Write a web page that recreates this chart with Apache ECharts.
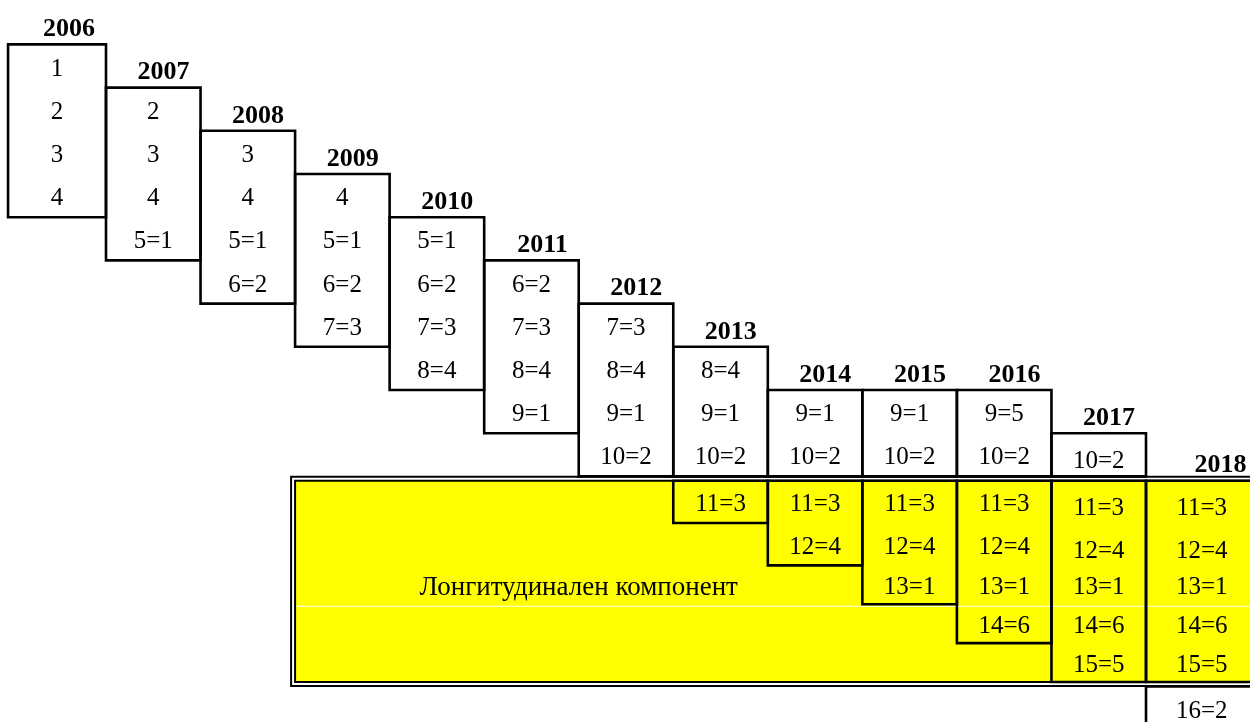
<!DOCTYPE html>
<html>
<head>
<meta charset="utf-8">
<script src="https://cdn.jsdelivr.net/npm/echarts@6/dist/echarts.min.js"></script>
<style>
html,body{margin:0;padding:0;background:#fff;}
#chart{width:1250px;height:722px;}
</style>
</head>
<body>
<div id="chart"></div>
<script>
// ---------- data ----------
const years = [2006, 2007, 2008, 2009, 2010, 2011, 2012, 2013, 2014, 2015, 2016, 2017, 2018];
const cells2006 = ['1', '2', '3', '4'];
const cells2007 = ['2', '3', '4', '5=1'];
const cells2008 = ['3', '4', '5=1', '6=2'];
const cells2009 = ['4', '5=1', '6=2', '7=3'];
const cells2010 = ['5=1', '6=2', '7=3', '8=4'];
const cells2011 = ['6=2', '7=3', '8=4', '9=1'];
const cells2012 = ['7=3', '8=4', '9=1', '10=2'];
const cells2013 = ['8=4', '9=1', '10=2', '11=3'];
const cells2014 = ['9=1', '10=2', '11=3', '12=4'];
const cells2015 = ['9=1', '10=2', '11=3', '12=4', '13=1'];
const cells2016 = ['9=5', '10=2', '11=3', '12=4', '13=1', '14=6'];
const cells2017 = ['10=2', '11=3', '12=4', '13=1', '14=6', '15=5'];
const cells2018 = ['11=3', '12=4', '13=1', '14=6', '15=5', '16=2'];
const columnCells = [cells2006, cells2007, cells2008, cells2009, cells2010, cells2011, cells2012,
                     cells2013, cells2014, cells2015, cells2016, cells2017, cells2018];
const longitudinalLabel = 'Лонгитудинален компонент';
const longitudinalFirstYear = 2009;   // yellow block starts at this year's column
const longitudinalLabelYears = [2009, 2014]; // label centred over these columns
const longitudinalRows = [11, 15];    // rows covered by the yellow block

// ---------- layout helpers (row / column geometry in axis units) ----------
const LOWER_H = {11: 0.98, 12: 0.98, 13: 0.9, 14: 0.9, 15: 0.9};
const GAP = 0.1;
function rowH(k) { return LOWER_H[k] || 1; }
function rowTop(k) {
  if (k <= longitudinalRows[0] - 1) return k - 0.5;
  let y = longitudinalRows[0] - 0.5 + GAP;
  for (let r = longitudinalRows[0]; r < k; r++) {
    y += rowH(r);
    if (r === longitudinalRows[1]) y += GAP;
  }
  return y;
}
function rowBottom(k) { return rowTop(k) + rowH(k); }
function rowMid(k) { return rowTop(k) + rowH(k) / 2; }
const lastCol = years.length - 1;
function colLeft(i) { return i === 0 ? -0.036 : i; }
function colRight(i) { return i === lastCol ? lastCol + 1.18 : i + 1; }
function colMid(i) { return (colLeft(i) + colRight(i)) / 2; }
function rowOf(s) { return parseInt(s, 10); }

// boxes derived from cell rows
const boxes = [];
const textItems = [];
const yearItems = [];
columnCells.forEach((cells, i) => {
  const rows = cells.map(rowOf);
  const up = rows.filter(r => r < longitudinalRows[0]);
  const low = rows.filter(r => r >= longitudinalRows[0] && r <= longitudinalRows[1]);
  const below = rows.filter(r => r > longitudinalRows[1]);
  if (up.length) boxes.push([colLeft(i), rowTop(Math.min(...up)), colRight(i), rowBottom(Math.max(...up))]);
  if (low.length) boxes.push([colLeft(i), rowTop(longitudinalRows[0]), colRight(i), rowBottom(Math.max(...low))]);
  if (below.length) boxes.push([colLeft(i), rowTop(Math.min(...below)), colRight(i), rowBottom(Math.max(...below)) + 1]);
  cells.forEach(s => {
    const r = rowOf(s);
    textItems.push({x: colMid(i), y: rowMid(r), text: s, nudge: (i >= lastCol - 1 && r <= 12) ? 4 : 0});
  });
  yearItems.push({x: colRight(i), y: rowTop(Math.min(...rows)), text: String(years[i])});
});

const yellowCol = years.indexOf(longitudinalFirstYear);
const yellowRect = [yellowCol, rowTop(longitudinalRows[0]), lastCol + 1.5, rowBottom(longitudinalRows[1])];
const labelX = (years.indexOf(longitudinalLabelYears[0]) + years.indexOf(longitudinalLabelYears[1]) + 1) / 2;
const labelY = rowMid(13);
const whiteLineY = rowBottom(13);

const FONT = '"Liberation Serif", "Times New Roman", serif';
const TEXT_DY = 3;

const chart = echarts.init(document.getElementById('chart'), null, {renderer: 'canvas'});
chart.setOption({
  animation: false,
  backgroundColor: '#ffffff',
  grid: {left: 11.45, right: 0, top: 1.2, bottom: 0},
  xAxis: {type: 'value', min: 0, max: 13.1, show: false},
  yAxis: {type: 'value', min: -0.5, max: 16.185, inverse: true, show: false},
  series: [
    {
      type: 'custom', clip: false, z: 1,
      data: [yellowRect],
      renderItem: function (params, api) {
        const p1 = api.coord([api.value(0), api.value(1)]);
        const p2 = api.coord([api.value(2), api.value(3)]);
        const w = p2[0] - p1[0], h = p2[1] - p1[1];
        const wl = api.coord([0, whiteLineY])[1] + 2;
        const lp = api.coord([labelX, labelY]);
        return {
          type: 'group',
          children: [
            {type: 'rect', shape: {x: p1[0], y: p1[1], width: w, height: h}, style: {fill: '#ffff00'}},
            {type: 'line', shape: {x1: p1[0] + 1, y1: wl, x2: p2[0], y2: wl}, style: {stroke: '#ffffff', lineWidth: 1}},
            {type: 'rect', shape: {x: p1[0], y: p1[1], width: w, height: h}, style: {fill: 'none', stroke: '#000', lineWidth: 2}},
            {type: 'rect', shape: {x: p1[0] - 4, y: p1[1] - 4, width: w + 8, height: h + 8}, style: {fill: 'none', stroke: '#000', lineWidth: 2}},
            {type: 'text', x: lp[0], y: lp[1] + TEXT_DY, style: {text: longitudinalLabel, font: '27px ' + FONT, fill: '#000', align: 'center', verticalAlign: 'middle'}}
          ]
        };
      }
    },
    {
      type: 'custom', clip: false, z: 2,
      data: boxes,
      renderItem: function (params, api) {
        const p1 = api.coord([api.value(0), api.value(1)]);
        const p2 = api.coord([api.value(2), api.value(3)]);
        return {
          type: 'rect',
          shape: {x: p1[0], y: p1[1], width: p2[0] - p1[0], height: p2[1] - p1[1]},
          style: {fill: 'none', stroke: '#000', lineWidth: 2.6}
        };
      }
    },
    {
      type: 'custom', clip: false, z: 3,
      data: textItems.map(t => [t.x, t.y]),
      renderItem: function (params, api) {
        const t = textItems[params.dataIndex];
        const p = api.coord([api.value(0), api.value(1)]);
        return {
          type: 'text', x: p[0], y: p[1] + t.nudge + TEXT_DY,
          style: {text: t.text, font: '25px ' + FONT, fill: '#000', align: 'center', verticalAlign: 'middle'}
        };
      }
    },
    {
      type: 'custom', clip: false, z: 3,
      data: yearItems.map(t => [t.x, t.y]),
      renderItem: function (params, api) {
        const t = yearItems[params.dataIndex];
        const p = api.coord([api.value(0), api.value(1)]);
        return {
          type: 'text', x: p[0] - 11, y: p[1] - 15,
          style: {text: t.text, font: 'bold 26px ' + FONT, fill: '#000', align: 'right', verticalAlign: 'middle'}
        };
      }
    }
  ]
});
</script>
</body>
</html>
